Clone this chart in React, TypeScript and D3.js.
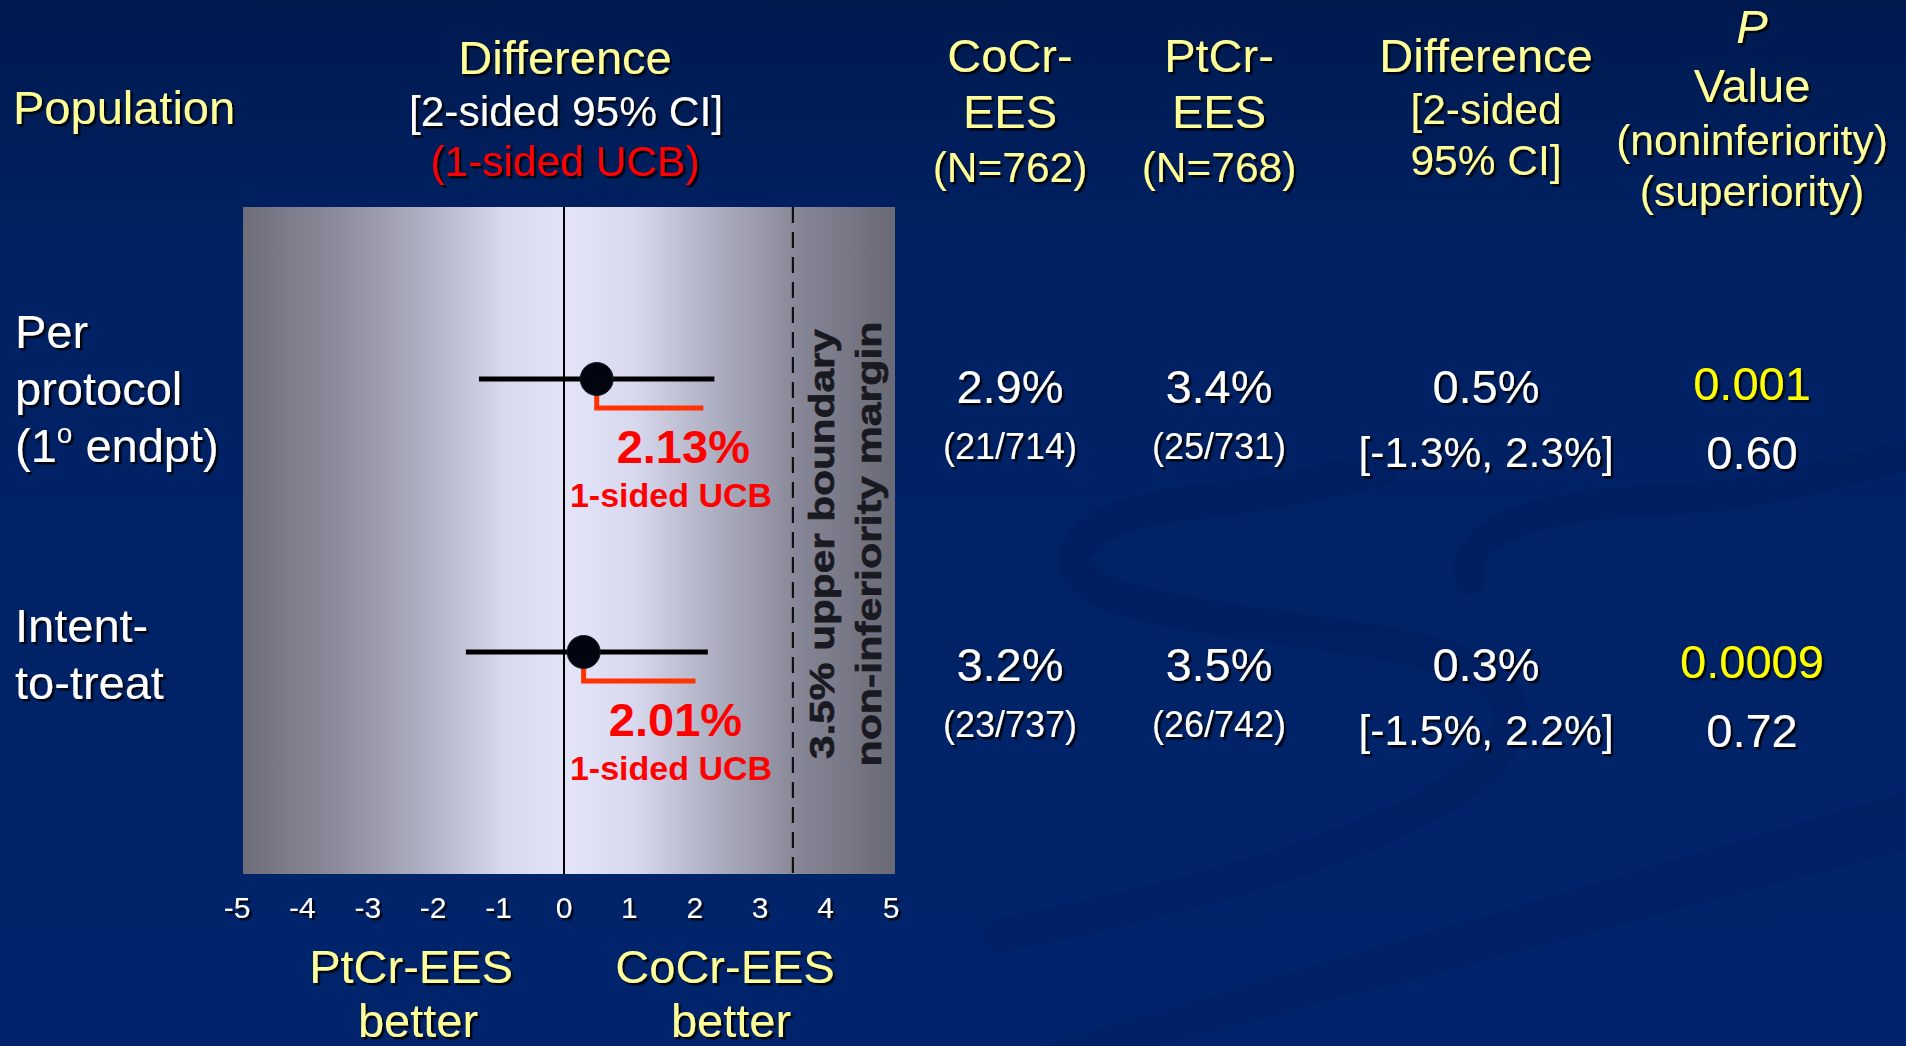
import React from "react";
import * as d3 from "d3";

// ---- data ----
const populations = ["Per protocol", "Intent-to-treat"];
const labelLines = [["Per", "protocol", "(1|o| endpt)"], ["Intent-", "to-treat"]];
const pointDiff = [0.5, 0.3];
const ciLow = [-1.3, -1.5];
const ciHigh = [2.3, 2.2];
const ucb = [2.13, 2.01];
const nonInfMargin = 3.5;
const xTicks = [-5, -4, -3, -2, -1, 0, 1, 2, 3, 4, 5];

const cocrPct = ["2.9%", "3.2%"];
const cocrCounts = ["(21/714)", "(23/737)"];
const ptcrPct = ["3.4%", "3.5%"];
const ptcrCounts = ["(25/731)", "(26/742)"];
const diffPct = ["0.5%", "0.3%"];
const diffCI = ["[-1.3%, 2.3%]", "[-1.5%, 2.2%]"];
const pNonInferiority = ["0.001", "0.0009"];
const pSuperiority = ["0.60", "0.72"];

const W = 1906;
const H = 1046;
const FONT = "'Liberation Sans', Arial, Helvetica, sans-serif";
const YELLOW = "#ffff99";
const BRIGHT_YELLOW = "#ffff00";
const WHITE = "#ffffff";
const RED = "#ff0000";
const ORANGE = "#ff3300";

const box = { left: 243, right: 895, top: 207, bottom: 874 };

type TProps = {
  x: number;
  y: number;
  size?: number;
  fill?: string;
  anchor?: "start" | "middle" | "end";
  weight?: string;
  italic?: boolean;
  shadow?: boolean;
  children: React.ReactNode;
};

function T({ x, y, size = 47, fill = WHITE, anchor = "middle", weight = "normal", italic = false, shadow = true, children }: TProps) {
  return (
    <text
      x={x}
      y={y}
      fontSize={size}
      fill={fill}
      textAnchor={anchor}
      fontWeight={weight}
      fontStyle={italic ? "italic" : "normal"}
      fontFamily={FONT}
      filter={shadow ? "url(#txtShadow)" : undefined}
    >
      {children}
    </text>
  );
}

export default function App() {
  const x = d3.scaleLinear().domain([-5, 5]).range([237, 891]);
  const rowY = d3.scalePoint<string>().domain(populations).range([379, 652]);
  const tableY = d3.scalePoint<string>().domain(populations).range([403, 681]);

  const colCoCr = 1010;
  const colPtCr = 1219;
  const colDiff = 1486;
  const colP = 1752;

  return (
    <svg
      width={W}
      height={H}
      viewBox={`0 0 ${W} ${H}`}
      style={{ position: "absolute", left: 0, top: 0, display: "block" }}
    >
      <defs>
        <linearGradient id="bg" x1="0" y1="0" x2="0" y2="1">
          <stop offset="0" stopColor="#001a50" />
          <stop offset="0.25" stopColor="#002163" />
          <stop offset="1" stopColor="#00246c" />
        </linearGradient>
        <linearGradient id="plotFill" x1="0" y1="0" x2="1" y2="0">
          <stop offset="0" stopColor="#6e6e7a" />
          <stop offset="0.14" stopColor="#8a8a9a" />
          <stop offset="0.28" stopColor="#b0b0c4" />
          <stop offset="0.4" stopColor="#d8d8ee" />
          <stop offset="0.5" stopColor="#e4e4f9" />
          <stop offset="0.6" stopColor="#d8d8ee" />
          <stop offset="0.72" stopColor="#b0b0c4" />
          <stop offset="0.86" stopColor="#848494" />
          <stop offset="1" stopColor="#6a6a76" />
        </linearGradient>
        <filter id="txtShadow" x="-10%" y="-20%" width="120%" height="140%">
          <feDropShadow dx="2.5" dy="2.5" stdDeviation="0.7" floodColor="#000000" floodOpacity="0.85" />
        </filter>
      </defs>

      {/* background */}
      <rect x={0} y={0} width={W} height={H} fill="url(#bg)" />
      <g fill="none" stroke="#001c5a" strokeOpacity={0.3} strokeLinecap="round">
        <path d="M 1000 935 C 1230 890 1520 810 1510 710 C 1500 630 1260 640 1120 598 C 1040 572 1070 515 1190 503 C 1270 495 1340 478 1380 470" strokeWidth={34} />
        <path d="M 1470 580 C 1455 525 1560 503 1660 500 C 1760 497 1850 470 1906 455" strokeWidth={30} />
      </g>
      <path d="M 1040 1046 L 1906 792 L 1906 850 L 1160 1046 Z" fill="#001c5a" fillOpacity={0.3} />

      {/* plot area */}
      <rect x={box.left} y={box.top} width={box.right - box.left} height={box.bottom - box.top} fill="url(#plotFill)" />
      <line x1={x(0)} x2={x(0)} y1={box.top} y2={box.bottom} stroke="#000" strokeWidth={2} />
      <line
        x1={x(nonInfMargin)}
        x2={x(nonInfMargin)}
        y1={box.top}
        y2={box.bottom}
        stroke="#111"
        strokeWidth={2.2}
        strokeDasharray="16,9"
      />

      {/* non-inferiority margin caption */}
      {[
        { text: "3.5% upper boundary", dx: 834, len: 430 },
        { text: "non-inferiority margin", dx: 881, len: 445 },
      ].map((l) => (
        <text
          key={l.text}
          transform={`translate(${l.dx},544) rotate(-90) scale(1,0.85)`}
          textAnchor="middle"
          fontFamily={FONT}
          fontWeight="bold"
          fontSize={42}
          fill="#191922"
          stroke="#191922"
          strokeWidth={0.8}
          textLength={l.len}
          lengthAdjust="spacingAndGlyphs"
        >
          {l.text}
        </text>
      ))}

      {/* estimates with 95% CI and one-sided upper bound */}
      {populations.map((p, i) => {
        const cy = rowY(p) as number;
        const cx = x(pointDiff[i]);
        return (
          <g key={p}>
            <path
              d={`M ${cx} ${cy} V ${cy + 29} H ${x(ucb[i])}`}
              fill="none"
              stroke={ORANGE}
              strokeWidth={5}
            />
            <line x1={x(ciLow[i])} x2={x(ciHigh[i])} y1={cy} y2={cy} stroke="#000" strokeWidth={5} />
            <circle cx={cx} cy={cy} r={16.5} fill="#00050f" stroke="#1a1a22" strokeWidth={1} />
            <T x={x(ucb[i]) - 20} y={cy + 84} size={47} fill={RED} weight="bold" shadow={false}>
              {`${ucb[i].toFixed(2)}%`}
            </T>
            <T x={671} y={cy + 128} size={34} fill={RED} weight="bold" shadow={false}>
              1-sided UCB
            </T>
          </g>
        );
      })}

      {/* x axis tick labels */}
      {xTicks.map((t) => (
        <T key={t} x={x(t)} y={918} size={30} fill={WHITE}>
          {String(t)}
        </T>
      ))}
      <T x={411} y={983} fill={YELLOW}>PtCr-EES</T>
      <T x={418} y={1037} fill={YELLOW}>better</T>
      <T x={725} y={983} fill={YELLOW}>CoCr-EES</T>
      <T x={731} y={1037} fill={YELLOW}>better</T>

      {/* column headers */}
      <T x={13} y={124} anchor="start" fill={YELLOW}>Population</T>
      <T x={565} y={74} fill={YELLOW}>Difference</T>
      <T x={566} y={126} size={42.5} fill={WHITE}>[2-sided 95% CI]</T>
      <T x={565} y={176} size={42.5} fill={RED}>(1-sided UCB)</T>

      <T x={colCoCr} y={72} fill={YELLOW}>CoCr-</T>
      <T x={colCoCr} y={128} fill={YELLOW}>EES</T>
      <T x={colCoCr} y={182} size={42.5} fill={YELLOW}>(N=762)</T>

      <T x={colPtCr} y={72} fill={YELLOW}>PtCr-</T>
      <T x={colPtCr} y={128} fill={YELLOW}>EES</T>
      <T x={colPtCr} y={182} size={42.5} fill={YELLOW}>(N=768)</T>

      <T x={colDiff} y={72} fill={YELLOW}>Difference</T>
      <T x={colDiff} y={124} size={42.5} fill={YELLOW}>[2-sided</T>
      <T x={colDiff} y={175} size={42.5} fill={YELLOW}>95% CI]</T>

      <T x={colP} y={43} fill={YELLOW} italic>P</T>
      <T x={colP} y={102} fill={YELLOW}>Value</T>
      <T x={colP} y={155} size={42.5} fill={YELLOW}>(noninferiority)</T>
      <T x={colP} y={206} size={42.5} fill={YELLOW}>(superiority)</T>

      {/* population labels */}
      {labelLines.map((lines, i) =>
        lines.map((line, j) => {
          const base = i === 0 ? 348 : 642;
          const y = base + j * 57;
          if (line.includes("|")) {
            const [a, sup, b] = line.split("|");
            return (
              <text key={`${i}-${j}`} x={15} y={y} fontSize={47} fill={WHITE} fontFamily={FONT} filter="url(#txtShadow)">
                {a}
                <tspan fontSize={28} dy={-19}>{sup}</tspan>
                <tspan dy={19}>{b}</tspan>
              </text>
            );
          }
          return (
            <T key={`${i}-${j}`} x={15} y={y} anchor="start">
              {line}
            </T>
          );
        })
      )}

      {/* table values */}
      {populations.map((p, i) => {
        const y = tableY(p) as number;
        return (
          <g key={`tbl-${p}`}>
            <T x={colCoCr} y={y}>{cocrPct[i]}</T>
            <T x={colCoCr} y={y + 56} size={36}>{cocrCounts[i]}</T>
            <T x={colPtCr} y={y}>{ptcrPct[i]}</T>
            <T x={colPtCr} y={y + 56} size={36}>{ptcrCounts[i]}</T>
            <T x={colDiff} y={y}>{diffPct[i]}</T>
            <T x={colDiff} y={y + 64} size={42.5}>{diffCI[i]}</T>
            <T x={colP} y={y - 3} fill={BRIGHT_YELLOW}>{pNonInferiority[i]}</T>
            <T x={colP} y={y + 66}>{pSuperiority[i]}</T>
          </g>
        );
      })}
    </svg>
  );
}
